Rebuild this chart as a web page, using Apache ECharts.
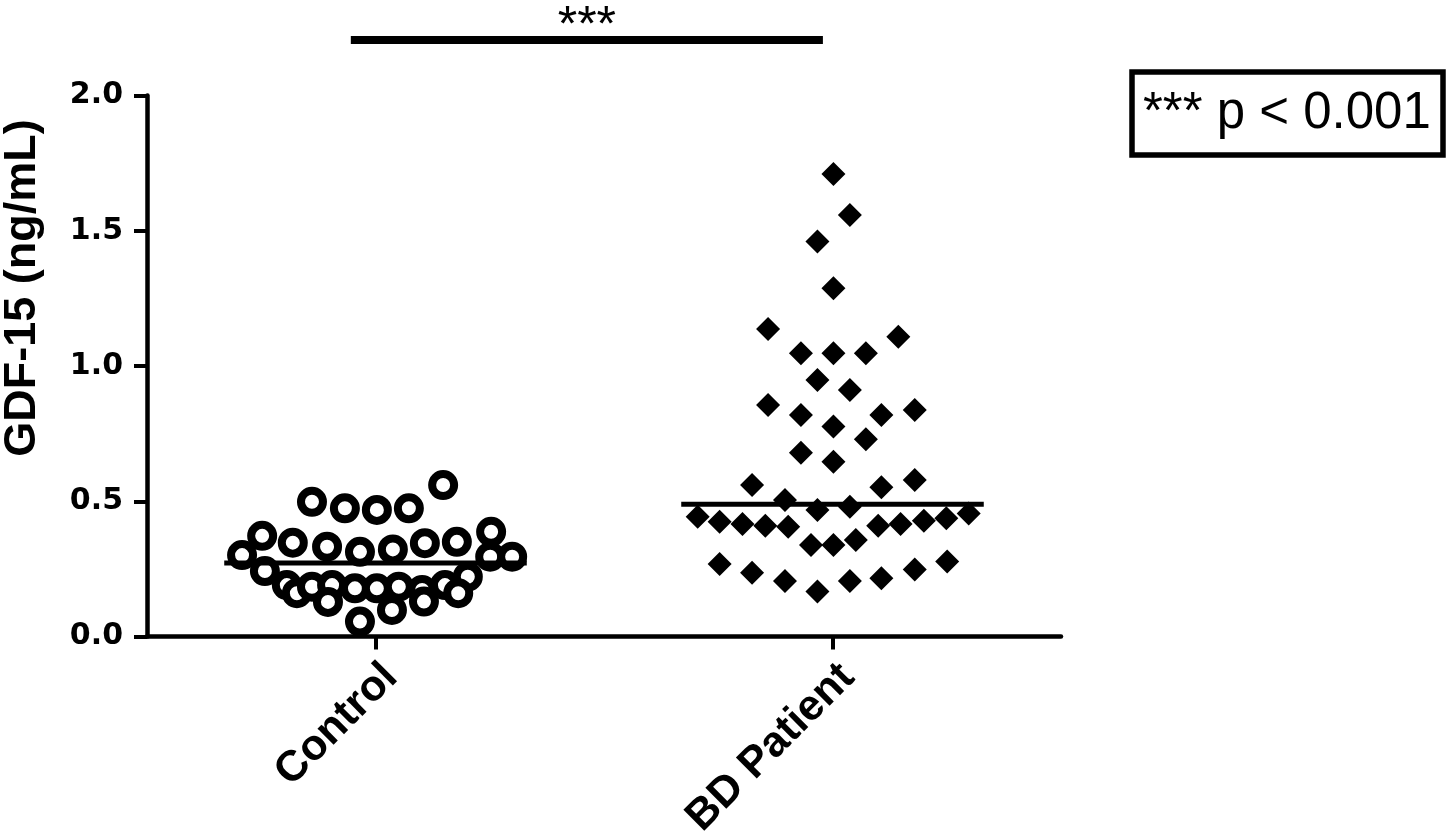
<!DOCTYPE html>
<html>
<head>
<meta charset="utf-8">
<script src="https://cdn.jsdelivr.net/npm/echarts@6/dist/echarts.min.js"></script>
<style>
html,body{margin:0;padding:0;background:#fff;}
#c{width:1452px;height:832px;}
</style>
</head>
<body>
<div id="c"></div>
<script>
// ---- data ----
const categories = ['Control', 'BD Patient'];
const yTickValues = [0, 0.5, 1.0, 1.5, 2.0];

const controlValues = [0.560,0.498,0.474,0.468,0.474,
  0.372,0.347,0.332,0.313,0.322,0.345,0.350,0.387,
  0.301,0.295,0.295,
  0.242,0.221,0.190,0.160,0.184,0.190,0.178,0.178,0.184,0.172,0.190,0.160,0.128,0.129,0.098,0.055];
const controlJitter = [0.148,-0.139,-0.067,0.003,0.073,
  -0.248,-0.181,-0.106,-0.034,0.038,0.108,0.178,0.253,
  -0.292,0.251,0.299,
  -0.242,0.202,-0.194,-0.172,-0.139,-0.095,-0.045,0.003,0.051,0.102,0.152,0.181,-0.104,0.106,0.036,-0.034];

const bdValues = [1.710,1.558,1.460,1.287,1.137,1.108,1.047,1.047,1.047,0.948,0.911,
  0.856,0.819,0.819,0.837,0.776,0.729,0.679,0.646,
  0.560,0.552,0.579,
  0.505,0.468,0.480,
  0.443,0.424,0.416,0.409,0.406,0.409,0.416,0.428,0.437,0.455,
  0.338,0.338,0.357,
  0.268,0.236,0.205,0.166,0.205,0.215,0.248,0.277];
const bdJitter = [0.002,0.038,-0.033,0.002,-0.141,0.144,-0.069,0.002,0.073,-0.033,0.038,
  -0.141,-0.069,0.107,0.180,0.002,0.073,-0.069,0.002,
  -0.176,0.107,0.180,
  -0.104,-0.033,0.038,
  -0.295,-0.247,-0.197,-0.147,-0.097,0.100,0.149,0.200,0.249,0.298,
  -0.047,0.002,0.051,
  -0.247,-0.176,-0.104,-0.033,0.038,0.107,0.180,0.251];

const groupMeans = [0.272, 0.489];
const sigFrom = -0.054, sigTo = 0.979, sigLevel = 2.205;
const sigText = '***';
const legendText = '*** p < 0.001';
const yTitle = 'GDF-15 (ng/mL)';

// ---- chart ----
const chart = echarts.init(document.getElementById('c'), null, {renderer: 'canvas'});
const meanHalf = 0.331;
const black = '#000';

const option = {
  backgroundColor: '#fff',
  animation: false,
  grid: {left: 147, right: 391, top: 95.5, bottom: 195.5, containLabel: false, outerBoundsMode: 'none'},
  xAxis: [
    {
      type: 'category', data: categories, boundaryGap: true,
      axisLine: {show: true, onZero: false, lineStyle: {color: black, width: 4.5}},
      axisTick: {show: true, alignWithLabel: true, length: 13, lineStyle: {color: black, width: 4}},
      axisLabel: {rotate: 45, margin: 19, verticalAlign: 'top',
        fontFamily: 'Liberation Sans', fontWeight: 'bold', fontSize: 43, color: black},
      splitLine: {show: false}
    },
    {type: 'value', min: -0.5, max: 1.5, show: false}
  ],
  yAxis: {
    type: 'value', min: yTickValues[0], max: yTickValues[yTickValues.length-1], interval: 0.5,
    axisLine: {show: true, onZero: false, lineStyle: {color: black, width: 4.5}},
    axisTick: {show: true, length: 13, lineStyle: {color: black, width: 4}},
    axisLabel: {formatter: v => v.toFixed(1), margin: 24, padding: [0,0,9,0],
      fontFamily: 'DejaVu Sans', fontWeight: 'bold', fontSize: 30, color: black},
    splitLine: {show: false}
  },
  series: [
    {
      type: 'scatter', xAxisIndex: 1, yAxisIndex: 0, z: 3,
      data: controlValues.map((v, i) => [0 + controlJitter[i], v]),
      symbol: 'circle', symbolSize: 22,
      itemStyle: {color: '#fff', borderColor: black, borderWidth: 8, opacity: 1}
    },
    {
      type: 'scatter', xAxisIndex: 1, yAxisIndex: 0, z: 3,
      data: bdValues.map((v, i) => [1 + bdJitter[i], v]),
      symbol: 'diamond', symbolSize: 24,
      itemStyle: {color: black, opacity: 1}
    },
    ...groupMeans.map((m, g) => ({
      type: 'line', xAxisIndex: 1, yAxisIndex: 0, z: 4,
      data: [[g - meanHalf, m], [g + meanHalf, m]],
      symbol: 'none', lineStyle: {color: black, width: 5}
    })),
    {
      type: 'line', xAxisIndex: 1, yAxisIndex: 0, clip: false, z: 4,
      data: [[sigFrom, sigLevel], [sigTo, sigLevel]],
      symbol: 'none', lineStyle: {color: black, width: 8}
    }
  ]
};
chart.setOption(option);

const sigCenter = chart.convertToPixel({xAxisIndex: 1, yAxisIndex: 0}, [(sigFrom + sigTo) / 2, sigLevel]);

chart.setOption({
  graphic: [
    {
      type: 'text', x: sigCenter[0], y: sigCenter[1] - 13,
      style: {text: sigText, fontFamily: 'Liberation Sans', fontSize: 50, fill: black,
        align: 'center', verticalAlign: 'middle'}
    },
    {
      type: 'text', x: 23, y: 288, rotation: Math.PI / 2,
      style: {text: yTitle, fontFamily: 'Liberation Sans', fontWeight: 'bold', fontSize: 45, fill: black,
        align: 'center', verticalAlign: 'middle'}
    },
    {
      type: 'rect', shape: {x: 1132, y: 72, width: 311, height: 83},
      style: {fill: '#fff', stroke: black, lineWidth: 5.5}
    },
    {
      type: 'text', x: 1143, y: 114,
      style: {text: legendText, fontFamily: 'Liberation Sans', fontSize: 51, fill: black,
        align: 'left', verticalAlign: 'middle'}
    }
  ]
});
</script>
</body>
</html>
